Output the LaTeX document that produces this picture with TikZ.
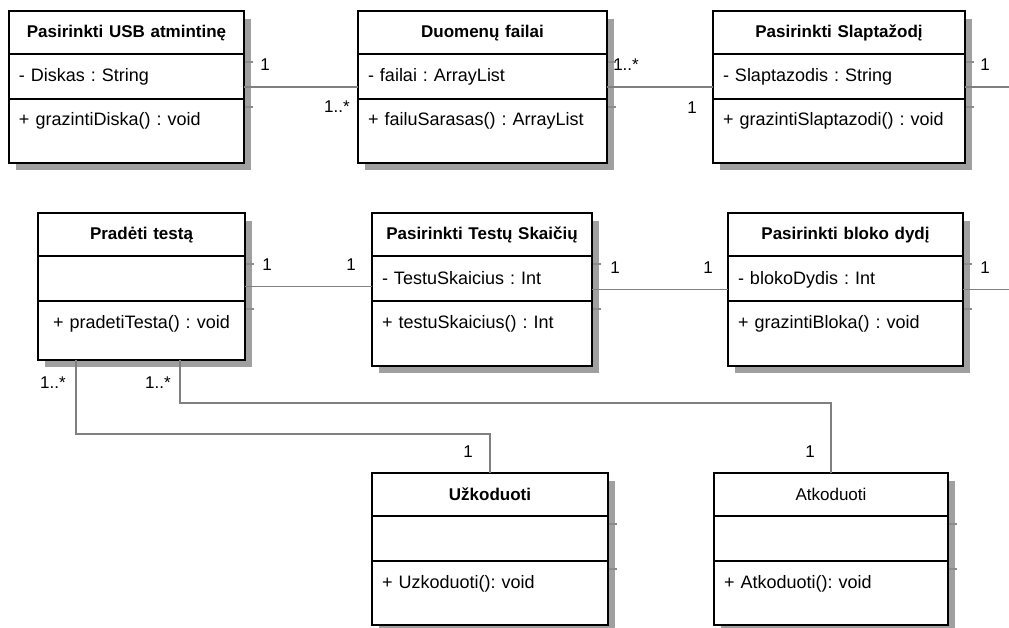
\documentclass[tikz,border=0pt]{standalone}
\usepackage{fontspec}
\setmainfont{Liberation Sans}
\usetikzlibrary{positioning}
\definecolor{assocgray}{RGB}{128,128,128}
\definecolor{boxshade}{RGB}{160,160,160}
\definecolor{tickgray}{RGB}{140,140,140}
\newcommand{\umlfont}{\fontsize{18}{21}\selectfont}
\newcommand{\multfont}{\fontsize{17}{20}\selectfont}
\frenchspacing

\begin{document}
\begin{tikzpicture}[
  x=1pt, y=-1pt,
  font=\umlfont,
  classbox/.style={anchor=north west, minimum width=#1, inner sep=0pt, outer sep=0pt},
  part/.style={draw, line width=2.2pt, outer sep=0pt, inner xsep=10pt, inner ysep=0pt,
               text width=#1},
  ctitle/.style={part=#1, align=center, font=\multfont\bfseries, text height=27pt, text depth=16pt},
  cattr/.style={part=#1, align=left, text height=28pt, text depth=17pt},
  cmeth/.style={part=#1, align=left, text height=27pt},
  shadowline/.style={draw=boxshade, line width=6pt},
  shadowtick/.style={draw=tickgray, line width=1.5pt},
  assoc/.style={draw=assocgray, line width=1.6pt},
  mult/.style={inner sep=0pt, font=\multfont}
]
\useasboundingbox (0,0) rectangle (1009,628);

% first row
\node[classbox=235pt, minimum height=152pt] (usb) at (9,11) {};
\node[ctitle=215pt, below=0pt of usb.north] (usbT) {Pasirinkti USB atmintinę};
\node[cattr=215pt, below=0pt of usbT] (usbA) {- Diskas : String};
\node[cmeth=215pt, below=0pt of usbA, text depth=37pt] (usbM) {+ grazintiDiska() : void};

\node[classbox=249pt, minimum height=152pt] (duom) at (358,11) {};
\node[ctitle=229pt, below=0pt of duom.north] (duomT) {Duomenų failai};
\node[cattr=229pt, below=0pt of duomT] (duomA) {- failai : ArrayList};
\node[cmeth=229pt, below=0pt of duomA, text depth=37pt] (duomM) {+ failuSarasas() : ArrayList};

\node[classbox=252pt, minimum height=152pt] (slapt) at (713,11) {};
\node[ctitle=232pt, below=0pt of slapt.north] (slaptT) {Pasirinkti Slaptažodį};
\node[cattr=232pt, below=0pt of slaptT] (slaptA) {- Slaptazodis : String};
\node[cmeth=232pt, below=0pt of slaptA, text depth=37pt] (slaptM) {+ grazintiSlaptazodi() : void};

% second row
\node[classbox=207pt, minimum height=147pt] (prad) at (38,213) {};
\node[ctitle=187pt, below=0pt of prad.north] (pradT) {Pradėti testą};
\node[cattr=187pt, below=0pt of pradT] (pradA) {};
\node[cmeth=187pt, below=0pt of pradA, text depth=32pt, align=center] (pradM) {+ pradetiTesta() : void};

\node[classbox=220pt, minimum height=153pt] (test) at (372,213) {};
\node[ctitle=200pt, below=0pt of test.north] (testT) {Pasirinkti Testų Skaičių};
\node[cattr=200pt, below=0pt of testT] (testA) {- TestuSkaicius : Int};
\node[cmeth=200pt, below=0pt of testA, text depth=38pt] (testM) {+ testuSkaicius() : Int};

\node[classbox=235pt, minimum height=153pt] (bloko) at (728,213) {};
\node[ctitle=215pt, below=0pt of bloko.north] (blokoT) {Pasirinkti bloko dydį};
\node[cattr=215pt, below=0pt of blokoT] (blokoA) {- blokoDydis : Int};
\node[cmeth=215pt, below=0pt of blokoA, text depth=38pt] (blokoM) {+ grazintiBloka() : void};

% third row
\node[classbox=236pt, minimum height=152pt] (uzk) at (372,473) {};
\node[ctitle=216pt, below=0pt of uzk.north] (uzkT) {Užkoduoti};
\node[cattr=216pt, below=0pt of uzkT] (uzkA) {};
\node[cmeth=216pt, below=0pt of uzkA, text depth=37pt] (uzkM) {+ Uzkoduoti(): void};

\node[classbox=234pt, minimum height=152pt] (atk) at (714,473) {};
\node[ctitle=214pt, below=0pt of atk.north, font=\multfont] (atkT) {Atkoduoti};
\node[cattr=214pt, below=0pt of atkT] (atkA) {};
\node[cmeth=214pt, below=0pt of atkA, text depth=37pt] (atkM) {+ Atkoduoti(): void};

% shadows on the right and bottom of each class
\foreach \cl in {usb,duom,slapt,prad,test,bloko,uzk,atk} {
  \draw[shadowline] ([shift={(4pt,-8pt)}]\cl.north east) |- ([shift={(7pt,-4pt)}]\cl.south west);
  \draw[shadowtick] ([shift={(1pt,-8pt)}]\cl A.north east) -- ++(8,0);
  \draw[shadowtick] ([shift={(1pt,-8pt)}]\cl M.north east) -- ++(8,0);
}

% associations
\coordinate (rightedge) at (1012,0);
\draw[assoc] (usb.east) -- (duom.west);
\draw[assoc] (duom.east) -- (slapt.west);
\draw[assoc] (slapt.east) -- (slapt.east -| rightedge);
\draw[assoc] (prad.east) -- (prad.east -| test.west);
\draw[assoc] (test.east) -- (bloko.west);
\draw[assoc] (bloko.east) -- (bloko.east -| rightedge);
\draw[assoc] ([xshift=-65.5pt]prad.south) -- ++(0,74) -| (uzk.north);
\draw[assoc] ([xshift=38.5pt]prad.south) -- ++(0,43) -| (atk.north);

% multiplicities
\node[mult] (m1)  at (265,65)  {1};
\node[mult] (m2)  at (337,107) {1..*};
\node[mult] (m3)  at (626,65)  {1..*};
\node[mult] (m4)  at (692,108) {1};
\node[mult] (m5)  at (985,65)  {1};
\node[mult] (m6)  at (267,265) {1};
\node[mult] (m7)  at (351,265) {1};
\node[mult] (m8)  at (615,268) {1};
\node[mult] (m9)  at (708,268) {1};
\node[mult] (m10) at (985,268) {1};
\node[mult] (m11) at (53,383)  {1..*};
\node[mult] (m12) at (158,383) {1..*};
\node[mult] (m13) at (468,452) {1};
\node[mult] (m14) at (810,452) {1};
\end{tikzpicture}
\end{document}
